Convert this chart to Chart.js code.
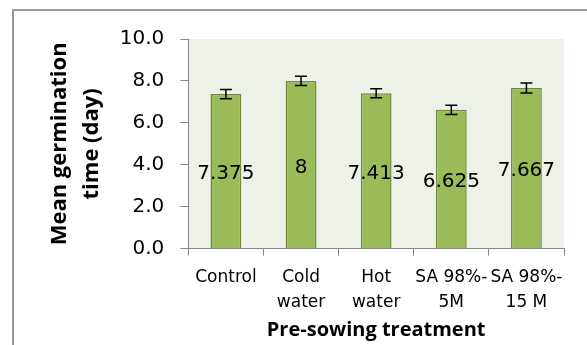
<!DOCTYPE html>
<html>
<head>
<meta charset="utf-8">
<script src="https://cdn.jsdelivr.net/npm/chart.js@4.4.0/dist/chart.umd.min.js"></script>
<style>
  html, body { margin: 0; padding: 0; background: #fff; }
  #wrap { width: 587px; height: 345px; }
</style>
</head>
<body>
<div id="wrap"><canvas id="mgtChart"></canvas></div>
<script>
// Data
const categories = [['Control'], ['Cold', 'water'], ['Hot', 'water'], ['SA 98%-', '5M'], ['SA 98%-', '15 M']];
const meanValues = [7.375, 8, 7.413, 6.625, 7.667];
const errorValues = [0.22, 0.22, 0.22, 0.22, 0.24];
const yTicks = [0, 2, 4, 6, 8, 10];

// Outer frame + plot background
const framePlugin = {
    id: 'frame',
    beforeDraw(chart) {
        const ctx = chart.ctx;
        const area = chart.chartArea;
        ctx.save();
        ctx.fillStyle = '#EEF1E7';
        ctx.fillRect(area.left, area.top, area.right - area.left, area.bottom - area.top);
        ctx.strokeStyle = '#999999';
        ctx.lineWidth = 2;
        ctx.beginPath();
        ctx.moveTo(13, chart.height);
        ctx.lineTo(13, 10);
        ctx.lineTo(chart.width, 10);
        ctx.stroke();
        ctx.restore();
    }
};

// Error bars and centred value labels
const barExtrasPlugin = {
    id: 'barExtras',
    afterDatasetsDraw(chart) {
        const ctx = chart.ctx;
        const yScale = chart.scales.y;
        const meta = chart.getDatasetMeta(0);
        ctx.save();
        meta.data.forEach((bar, i) => {
            const v = meanValues[i];
            const e = errorValues[i];
            const top = yScale.getPixelForValue(v + e);
            const bottom = yScale.getPixelForValue(v - e);
            ctx.strokeStyle = '#000';
            ctx.lineWidth = 1.5;
            ctx.beginPath();
            ctx.moveTo(bar.x, top);
            ctx.lineTo(bar.x, bottom);
            ctx.moveTo(bar.x - 6, top);
            ctx.lineTo(bar.x + 6, top);
            ctx.moveTo(bar.x - 6, bottom);
            ctx.lineTo(bar.x + 6, bottom);
            ctx.stroke();

            ctx.fillStyle = '#000';
            ctx.font = '20px "DejaVu Sans"';
            ctx.textAlign = 'center';
            ctx.textBaseline = 'middle';
            ctx.fillText(String(v), bar.x, (bar.y + bar.base) / 2 + 3);
        });
        ctx.restore();
    }
};

function initializeChart() {
    const canvas = document.getElementById('mgtChart');
    new Chart(canvas, {
        type: 'bar',
        data: {
            labels: categories,
            datasets: [{
                label: 'Mean germination time',
                data: meanValues,
                backgroundColor: '#9BBB59',
                borderColor: '#71893F',
                borderWidth: 1.5,
                borderSkipped: 'bottom',
                barPercentage: 0.41,
                categoryPercentage: 1.0
            }]
        },
        options: {
            responsive: true,
            maintainAspectRatio: false,
            animation: false,
            layout: {
                padding: { top: 39, right: 23, bottom: 0, left: 44 }
            },
            scales: {
                y: {
                    min: 0,
                    max: 10,
                    afterBuildTicks: scale => {
                        scale.ticks = yTicks.map(v => ({ value: v }));
                    },
                    ticks: {
                        color: '#000',
                        padding: 16,
                        font: { family: 'DejaVu Sans', size: 20 },
                        callback: v => Number(v).toFixed(1)
                    },
                    grid: {
                        drawOnChartArea: false,
                        tickLength: 8,
                        color: '#868686'
                    },
                    border: { color: '#868686', width: 1 },
                    title: {
                        display: true,
                        text: ['Mean germination', 'time (day)'],
                        color: '#000',
                        font: { family: 'Open Sans', size: 22, weight: 'bold', lineHeight: 1.45 },
                        padding: { top: 0, bottom: -4 }
                    }
                },
                x: {
                    ticks: {
                        color: '#000',
                        padding: 10,
                        autoSkip: false,
                        maxRotation: 0,
                        font: { family: 'DejaVu Sans', size: 17, lineHeight: 1.45 }
                    },
                    grid: {
                        drawOnChartArea: false,
                        tickLength: 7,
                        color: '#868686'
                    },
                    border: { color: '#868686', width: 1 },
                    title: {
                        display: true,
                        text: 'Pre-sowing treatment',
                        color: '#000',
                        font: { family: 'Open Sans', size: 20, weight: 'bold' },
                        padding: { top: -7, bottom: 3 }
                    }
                }
            },
            plugins: {
                legend: { display: false },
                tooltip: { enabled: false }
            }
        },
        plugins: [framePlugin, barExtrasPlugin]
    });
}

document.addEventListener('DOMContentLoaded', () => {
    initializeChart();
});
</script>
</body>
</html>
